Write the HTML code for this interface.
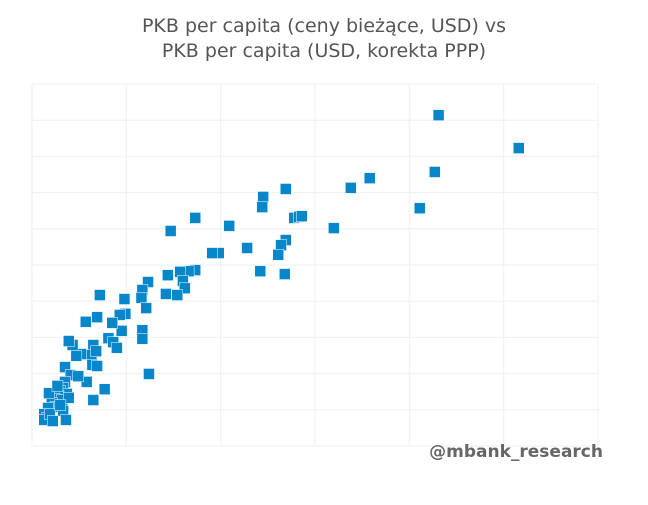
<!DOCTYPE html>
<html><head><meta charset="utf-8"><style>
body{margin:0;background:#fff;width:648px;height:500px;overflow:hidden;font-family:"Liberation Sans","DejaVu Sans",sans-serif}
</style></head><body>
<svg id="chart" width="648" height="500" xmlns="http://www.w3.org/2000/svg">
<text x="324" y="32" text-anchor="middle" font-size="19" fill="#555" font-family="DejaVu Sans, sans-serif">PKB per capita (ceny bieżące, USD) vs</text>
<text x="324" y="57" text-anchor="middle" font-size="19" fill="#555" font-family="DejaVu Sans, sans-serif">PKB per capita (USD, korekta PPP)</text>
<g id="grid"></g>
<g id="pts"></g>
<text x="603" y="457" text-anchor="end" font-size="17" font-weight="bold" fill="#666" font-family="DejaVu Sans, sans-serif">@mbank_research</text>
</svg>
<script>
const xTicks=[0,10,20,30,40,50,60];
const yTicks=[0,10,20,30,40,50,60,70,80,90,100];
const xValues=[43.1,51.6,42.7,41.1,35.8,33.8,32.0,26.9,24.5,24.4,27.8,28.3,28.6,26.9,26.4,26.1,26.8,24.2,22.8,20.9,19.8,19.1,17.3,14.7,17.3,16.6,15.7,16.0,16.2,14.4,15.4,14.2,12.3,11.7,11.6,12.1,11.7,11.7,12.4,9.8,9.9,9.3,9.5,8.1,8.6,9.0,8.5,7.2,6.9,5.7,6.5,6.3,6.8,6.4,5.2,4.7,4.3,3.9,6.9,5.8,7.7,6.5,3.5,4.1,4.9,3.5,3.3,3.0,3.7,2.8,2.4,3.2,3.9,2.1,2.5,1.7,1.3,3.3,1.6,1.3,1.9,2.2,3.6,3.0,1.8,2.7];
const yValues=[91.4,82.3,75.7,65.7,74.0,71.3,60.2,71.0,68.8,66.0,63.0,63.3,63.5,56.9,55.5,52.8,47.5,48.3,54.7,60.8,53.3,53.3,63.0,59.4,48.6,48.3,48.1,45.6,43.6,47.2,41.7,42.0,45.3,43.1,40.9,38.1,32.0,29.6,19.9,40.6,36.5,36.2,31.8,29.8,28.7,27.1,34.0,41.7,35.6,34.3,27.9,25.1,26.2,22.4,25.4,24.9,27.9,29.0,22.1,17.7,15.7,12.7,21.8,19.6,19.3,17.7,16.0,15.2,14.4,13.8,13.0,12.7,13.3,11.9,10.8,10.5,8.8,9.7,7.7,7.2,8.8,6.9,7.2,11.3,14.6,16.6];
const X0=32,X1=598,Y0=446,Y1=84;
const sx=v=>X0+(v-xTicks[0])/(xTicks[xTicks.length-1]-xTicks[0])*(X1-X0);
const sy=v=>Y0-(v-yTicks[0])/(yTicks[yTicks.length-1]-yTicks[0])*(Y0-Y1);
const NS="http://www.w3.org/2000/svg";
const grid=document.getElementById('grid');
xTicks.forEach(t=>{const l=document.createElementNS(NS,'line');


l.setAttribute('x1',sx(t));l.setAttribute('x2',sx(t));l.setAttribute('y1',Y1);l.setAttribute('y2',Y0);l.setAttribute('stroke','#eef0f2');grid.appendChild(l);});
yTicks.forEach(t=>{const l=document.createElementNS(NS,'line');


l.setAttribute('x1',X0);l.setAttribute('x2',X1);l.setAttribute('y1',sy(t));l.setAttribute('y2',sy(t));l.setAttribute('stroke','#eef0f2');grid.appendChild(l);});
const pts=document.getElementById('pts');
xValues.forEach((xv,i)=>{const r=document.createElementNS(NS,'rect');


r.setAttribute('x',sx(xv)-5.5);r.setAttribute('y',sy(yValues[i])-5.5);r.setAttribute('width',11);r.setAttribute('height',11);r.setAttribute('fill','#0786c9');r.setAttribute('stroke','#fff');r.setAttribute('stroke-width','0.5');pts.appendChild(r);});
</script>
</body></html>
